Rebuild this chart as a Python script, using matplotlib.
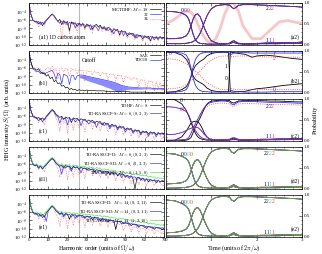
import numpy as np
import matplotlib
matplotlib.use('Agg')
import matplotlib.pyplot as plt
from matplotlib.ticker import MultipleLocator

plt.rcParams['font.family'] = ['Liberation Serif', 'DejaVu Serif']
plt.rcParams['mathtext.fontset'] = 'cm'

BLUE = '#2a2aff'
RED = '#ff3030'
GREEN = '#40e040'
PINK = '#f8c6c6'

# ---- HHG spectra, log10 S(Omega) at harmonic orders 0..70 ----
a1_m18 = [-2.3, -4.6, -6.0, -6.5, -6.3, -7.0, -6.5, -7.4, -6.6, -6.1,
          -5.6, -5.1, -4.6, -5.0, -5.7, -6.4, -5.9, -7.2, -6.2, -6.8,
          -6.4, -8.6, -6.5, -7.0, -6.7, -7.6, -6.8, -7.2, -6.9, -8.0,
          -7.0, -7.5, -7.2, -8.3, -7.4, -7.1, -7.7, -7.3, -8.2, -7.6,
          -8.5, -7.8, -8.0, -9.0, -8.1, -8.5, -8.3, -9.6, -8.6, -8.9,
          -8.8, -9.9, -9.1, -9.4, -9.2, -10.3, -9.5, -9.9, -9.7, -10.6,
          -9.8, -10.2, -9.9, -11.0, -10.0, -10.3, -10.1, -10.7, -10.0, -10.4,
          -10.2]
a1_m32 = [-2.4, -4.8, -6.2, -6.3, -6.8, -6.4, -7.1, -6.6, -7.0, -6.2,
          -5.7, -5.0, -4.7, -5.2, -5.9, -6.2, -6.8, -6.3, -6.9, -6.5,
          -7.3, -6.6, -6.9, -6.6, -8.0, -6.9, -7.1, -7.6, -7.0, -7.3,
          -7.6, -7.2, -8.4, -7.5, -7.4, -7.8, -8.6, -7.6, -7.9, -8.2,
          -7.9, -8.6, -8.2, -8.4, -9.4, -8.4, -8.7, -8.9, -8.6, -9.8,
          -9.0, -9.3, -9.6, -9.2, -9.9, -9.5, -10.4, -9.6, -10.0, -9.8,
          -10.2, -10.0, -10.6, -9.9, -10.2, -10.8, -10.0, -10.3, -10.1, -10.6,
          -10.3]
a1_m34 = [-2.3, -4.7, -6.1, -6.6, -6.4, -7.8, -6.6, -6.9, -7.5, -6.0,
          -5.7, -5.2, -4.7, -5.1, -5.8, -6.5, -7.0, -10.5, -6.4, -7.3,
          -6.6, -9.4, -6.7, -7.3, -6.8, -9.0, -7.0, -7.4, -7.0, -8.4,
          -7.2, -7.7, -7.3, -9.0, -7.5, -7.4, -7.9, -7.5, -8.8, -7.8,
          -8.7, -8.0, -8.2, -9.6, -8.3, -8.7, -8.5, -10.0, -8.8, -9.1,
          -9.0, -10.5, -9.3, -9.6, -9.4, -10.8, -9.7, -10.1, -9.9, -11.2,
          -10.0, -10.4, -10.1, -11.5, -10.2, -10.5, -10.3, -11.0, -10.2, -10.6,
          -10.4]

b1_sae = [-2.3, -4.6, -6.0, -6.3, -6.6, -6.2, -7.0, -7.4, -7.2, -8.0,
          -7.6, -8.6, -8.2, -9.3, -9.0, -9.8, -9.6, -10.4, -10.2, -10.8,
          -10.6, -11.2, -10.9, -11.3, -11.1, -11.5, -11.2, -11.4, -11.3, -11.5,
          -11.3, -11.4, -11.4, -11.4, -11.4, -11.5, -11.5, -11.5, -11.5, -11.5,
          -11.6, -11.6, -11.6, -11.6, -11.6, -11.6, -11.7, -11.7, -11.7, -11.7,
          -11.7, -11.7, -11.7, -11.8, -11.8, -11.8, -11.8, -11.8, -11.8, -11.8,
          -11.8, -11.9, -11.9, -11.9, -11.9, -11.9, -11.9, -11.9, -11.9, -11.9,
          -11.9]
b1_tdcis = [-2.4, -4.8, -6.3, -6.6, -7.0, -6.8, -7.4, -7.0, -7.6, -7.2,
            -7.0, -6.8, -6.6, -7.4, -8.8, -7.3, -7.6, -9.8, -7.5, -7.8,
            -8.0, -10.0, -7.9, -7.8, -8.9, -7.9, -7.8, -7.7, -7.8, -7.9,
            -8.0, -8.1, -8.2, -8.3, -8.4, -8.5, -8.6, -8.7, -8.8, -8.9,
            -9.0, -9.1, -9.2, -9.3, -9.5, -9.6, -9.8, -10.0, -10.2, -10.3,
            -10.4, -10.5, -10.6, -10.6, -10.7, -10.7, -10.7, -10.8, -10.8, -10.8,
            -10.8, -10.8, -10.8, -10.8, -10.9, -10.9, -10.9, -10.9, -10.9, -10.9,
            -10.9]
# lower edge of the fast-oscillating TDCIS band, orders 26, 28, ..., 70
b1_band_orders = list(range(26, 71, 2))
b1_tdcis_low = [-8.3, -8.6, -9.0, -9.3, -9.6, -9.9, -10.2, -10.6, -10.9, -11.3,
                -11.8, -11.5, -11.2, -11.1, -11.1, -11.1, -11.1, -11.0, -11.0, -11.1,
                -11.1, -11.1, -11.1]
b1_ref = [-2.3, -4.5, -5.8, -6.2, -6.0, -6.8, -6.3, -7.4, -6.6, -6.2,
          -5.9, -6.5, -5.6, -6.8, -6.2, -8.6, -6.3, -6.0, -7.0, -6.1,
          -6.4, -8.0, -6.2, -6.6, -6.3, -7.4, -6.4, -6.7, -6.5, -9.2,
          -6.7, -7.0, -6.8, -7.6, -6.9, -7.2, -7.0, -8.0, -7.1, -7.4,
          -7.2, -8.8, -7.4, -7.6, -7.5, -9.0, -7.7, -7.9, -7.8, -9.5,
          -8.0, -8.3, -8.2, -8.9, -8.4, -8.6, -8.5, -10.6, -8.7, -9.0,
          -8.9, -11.2, -9.1, -9.3, -9.2, -11.6, -9.4, -10.8, -9.5, -11.5,
          -9.7]

c1_tdhf = [-2.3, -4.7, -6.0, -6.2, -6.7, -6.4, -6.9, -6.5, -7.0, -6.1,
           -5.6, -5.0, -4.5, -4.9, -5.6, -6.0, -6.4, -6.1, -6.9, -6.3,
           -6.6, -6.4, -7.6, -6.5, -6.8, -6.6, -7.2, -6.7, -7.0, -6.8,
           -7.4, -7.0, -7.3, -7.1, -7.8, -7.3, -7.5, -7.4, -8.2, -7.6,
           -7.9, -7.8, -8.6, -8.0, -8.3, -8.2, -9.0, -8.4, -8.7, -8.6,
           -9.3, -8.9, -9.2, -9.0, -9.8, -9.3, -9.6, -9.4, -10.2, -9.6,
           -9.9, -9.7, -10.4, -9.8, -10.1, -9.9, -10.5, -10.0, -10.3, -10.1,
           -10.3]
c1_ras_s = [-2.4, -4.8, -6.2, -6.5, -6.4, -7.2, -6.6, -7.5, -6.8, -6.3,
            -5.8, -5.2, -4.7, -5.1, -5.9, -6.3, -7.8, -6.4, -6.7, -6.5,
            -8.2, -6.6, -6.9, -6.7, -7.5, -6.9, -7.0, -8.4, -7.1, -7.2,
            -7.3, -8.0, -7.3, -7.6, -7.4, -8.8, -7.6, -7.8, -7.7, -8.3,
            -8.0, -8.2, -9.1, -8.3, -8.5, -8.4, -9.4, -8.7, -8.9, -8.8,
            -9.9, -9.1, -9.3, -9.2, -10.2, -9.5, -9.7, -9.6, -10.6, -9.8,
            -10.0, -9.9, -10.9, -10.0, -10.2, -10.1, -11.0, -10.2, -10.4, -10.3,
            -10.5]
c1_ref = [-2.3, -4.6, -6.1, -6.7, -6.5, -7.6, -6.8, -7.0, -8.2, -6.4,
          -5.9, -5.3, -4.8, -5.2, -6.6, -7.4, -9.8, -6.6, -7.8, -6.8,
          -10.2, -7.0, -7.4, -9.4, -7.2, -7.6, -8.8, -7.3, -7.6, -9.9,
          -7.5, -7.8, -7.6, -9.2, -7.8, -8.0, -7.9, -9.6, -8.1, -8.3,
          -8.2, -9.8, -8.4, -8.6, -8.5, -10.4, -8.8, -9.0, -8.9, -10.6,
          -9.2, -9.4, -9.3, -10.9, -9.6, -9.8, -9.7, -11.3, -9.9, -10.1,
          -10.0, -11.4, -10.2, -10.4, -10.3, -11.6, -10.4, -10.6, -10.5, -11.5,
          -10.6]

d1_ras_d = [-2.3, -4.6, -6.0, -6.4, -6.2, -6.9, -6.5, -7.2, -6.6, -6.1,
            -5.6, -5.1, -4.7, -5.1, -5.8, -6.2, -6.6, -6.3, -7.0, -6.4,
            -6.7, -6.5, -7.3, -6.6, -6.9, -6.7, -7.4, -6.8, -7.1, -7.0,
            -7.5, -7.1, -7.4, -7.2, -8.0, -7.4, -7.6, -7.5, -8.3, -7.7,
            -7.9, -7.8, -8.7, -8.0, -8.3, -8.1, -8.9, -8.3, -8.6, -8.5,
            -9.2, -8.8, -9.0, -8.9, -9.6, -12.0, -9.3, -9.2, -9.9, -9.5,
            -9.7, -9.6, -10.3, -9.8, -10.0, -9.9, -10.5, -10.0, -10.2, -10.1,
            -10.2]
d1_ras_sd = [-2.4, -4.8, -6.2, -6.5, -6.3, -7.1, -6.6, -7.3, -6.7, -6.2,
             -5.7, -5.2, -4.8, -5.2, -5.9, -6.3, -6.8, -8.5, -6.5, -7.0,
             -6.6, -6.8, -7.8, -6.7, -7.0, -6.8, -7.2, -8.2, -7.0, -7.2,
             -7.1, -7.6, -7.3, -7.5, -7.4, -8.4, -7.6, -7.8, -7.7, -8.0,
             -8.8, -8.0, -8.2, -8.1, -8.7, -8.3, -8.5, -8.4, -9.3, -8.6,
             -8.9, -8.8, -9.5, -9.0, -9.2, -9.1, -9.8, -9.3, -9.5, -9.4,
             -10.2, -9.6, -9.8, -9.7, -10.1, -9.8, -10.0, -9.9, -10.4, -10.0,
             -10.1]
d1_cas = [-2.2, -4.5, -5.9, -6.2, -6.0, -6.6, -6.3, -6.8, -6.4, -5.9,
          -5.4, -4.9, -4.5, -4.8, -5.5, -5.9, -6.2, -6.0, -6.5, -6.1,
          -6.4, -6.2, -6.8, -6.3, -6.5, -6.4, -6.9, -6.5, -6.7, -6.6,
          -7.0, -6.7, -6.9, -6.8, -7.3, -6.9, -7.1, -7.0, -7.5, -7.2,
          -7.4, -7.3, -7.8, -7.5, -7.7, -7.6, -8.1, -7.8, -8.0, -7.9,
          -8.3, -8.1, -8.3, -8.2, -8.6, -8.4, -8.6, -8.5, -8.9, -8.7,
          -8.9, -8.8, -9.2, -9.0, -9.2, -9.1, -9.5, -9.3, -9.5, -9.4,
          -9.5]
d1_ref = [-2.3, -4.6, -6.1, -6.6, -6.4, -7.5, -6.7, -7.1, -7.9, -6.3,
          -5.8, -5.3, -4.9, -5.3, -6.4, -7.2, -9.2, -6.6, -7.6, -6.8,
          -9.8, -7.0, -7.3, -9.0, -7.1, -7.5, -8.6, -7.2, -7.5, -9.5,
          -7.4, -7.7, -7.5, -8.9, -7.7, -7.9, -7.8, -9.3, -8.0, -8.2,
          -8.1, -9.6, -8.3, -8.5, -8.4, -10.1, -8.7, -8.9, -8.8, -10.4,
          -9.1, -9.3, -9.2, -10.7, -9.5, -9.7, -9.6, -11.0, -9.8, -10.0,
          -9.9, -11.2, -10.1, -10.3, -10.2, -11.3, -10.3, -10.5, -10.4, -11.2,
          -10.5]

e1_ras_d = [-2.3, -4.7, -6.1, -6.3, -6.6, -6.4, -7.0, -6.6, -7.3, -6.2,
            -5.7, -5.1, -4.6, -5.0, -5.7, -6.1, -6.5, -6.2, -6.9, -6.4,
            -6.6, -7.8, -6.6, -6.8, -6.7, -7.3, -6.8, -7.0, -6.9, -7.6,
            -7.0, -7.3, -7.1, -7.9, -7.3, -7.5, -7.4, -8.2, -7.6, -7.8,
            -7.7, -8.5, -7.9, -8.1, -8.0, -10.2, -8.2, -8.4, -8.3, -8.9,
            -8.6, -8.8, -8.7, -9.3, -8.9, -9.1, -9.0, -9.7, -9.2, -9.4,
            -9.3, -10.0, -9.5, -9.7, -9.6, -10.2, -9.7, -9.9, -9.8, -10.3,
            -9.9]
e1_ras_sd = [-2.4, -4.8, -6.2, -6.6, -6.4, -7.1, -6.7, -7.4, -6.9, -8.3,
             -5.8, -5.2, -4.7, -5.1, -5.8, -6.2, -6.7, -6.3, -7.2, -6.5,
             -6.8, -6.6, -7.2, -6.7, -7.6, -6.8, -7.0, -6.9, -7.4, -7.0,
             -7.2, -7.1, -7.7, -7.3, -7.5, -7.4, -8.0, -7.6, -7.8, -7.7,
             -8.3, -7.9, -8.1, -8.0, -8.6, -8.2, -8.4, -8.3, -8.9, -8.5,
             -8.7, -8.6, -9.2, -8.8, -9.0, -8.9, -9.5, -9.1, -9.3, -9.2,
             -9.8, -9.4, -9.6, -9.5, -10.0, -9.6, -9.8, -9.7, -10.1, -9.8,
             -9.9]
e1_cas = [-2.2, -4.5, -5.9, -6.2, -6.0, -6.6, -6.2, -6.9, -6.4, -5.9,
          -5.4, -4.9, -4.4, -4.8, -5.4, -5.8, -6.1, -5.9, -6.4, -6.0,
          -6.3, -6.1, -6.6, -6.2, -6.4, -6.3, -6.8, -6.4, -6.6, -6.5,
          -6.8, -6.6, -6.8, -6.7, -7.1, -6.8, -7.0, -6.9, -7.3, -7.0,
          -7.2, -7.1, -7.5, -7.3, -7.5, -7.4, -7.8, -7.5, -7.7, -7.6,
          -8.0, -7.8, -8.0, -7.9, -8.3, -8.1, -8.3, -8.2, -8.6, -8.4,
          -8.6, -8.5, -8.9, -8.7, -8.9, -8.8, -9.2, -9.0, -9.2, -9.1,
          -9.3]
e1_ref = [-2.3, -4.6, -6.1, -6.7, -6.5, -7.7, -6.8, -7.2, -8.4, -6.4,
          -5.9, -5.3, -4.9, -5.3, -6.5, -7.3, -9.5, -6.7, -7.7, -6.9,
          -10.0, -7.1, -7.4, -9.2, -7.2, -7.6, -8.7, -7.3, -7.6, -9.7,
          -7.5, -7.8, -7.6, -9.0, -7.8, -8.0, -7.9, -9.4, -8.1, -8.3,
          -8.2, -9.7, -8.4, -8.6, -8.5, -10.2, -8.8, -9.0, -8.9, -10.5,
          -9.2, -9.4, -9.3, -10.8, -9.6, -9.8, -9.7, -11.1, -9.9, -10.1,
          -10.0, -11.3, -10.2, -10.4, -10.3, -11.4, -10.4, -10.6, -10.5, -11.3,
          -10.6]

cutoff_order = 26

# ---- populations vs time ----
t_a = [0, 0.2, 0.35, 0.45, 0.5, 0.55, 0.6, 0.65, 0.7, 0.75, 0.8, 0.85, 0.9, 0.95, 1.0,
       1.1, 1.2, 1.3, 1.4, 1.45, 1.5, 1.55, 1.6, 1.7, 1.9, 2.1, 2.3, 2.5, 2.7, 2.9, 3.0]

a2_p000 = [0.80, 0.79, 0.76, 0.70, 0.62, 0.45, 0.25, 0.12, 0.06, 0.04,
           0.03, 0.03, 0.02, 0.02, 0.02, 0.02, 0.02, 0.02, 0.03, 0.05,
           0.06, 0.04, 0.03, 0.02, 0.02, 0.03, 0.03, 0.03, 0.04, 0.04, 0.04]
a2_p111 = [0.15, 0.15, 0.17, 0.22, 0.30, 0.45, 0.62, 0.72, 0.74, 0.68,
           0.55, 0.40, 0.28, 0.18, 0.10, 0.05, 0.03, 0.03, 0.04, 0.08,
           0.10, 0.07, 0.04, 0.03, 0.03, 0.04, 0.05, 0.05, 0.06, 0.06, 0.07]
a2_p222 = [0.03, 0.03, 0.03, 0.04, 0.05, 0.06, 0.08, 0.12, 0.18, 0.27,
           0.40, 0.55, 0.68, 0.78, 0.86, 0.93, 0.95, 0.96, 0.95, 0.90,
           0.86, 0.90, 0.94, 0.96, 0.96, 0.95, 0.94, 0.93, 0.92, 0.91, 0.90]
a2_exact = [0.50, 0.62, 0.75, 0.80, 0.80, 0.78, 0.72, 0.62, 0.50, 0.38,
            0.27, 0.18, 0.11, 0.07, 0.06, 0.15, 0.40, 0.75, 0.97, 1.00,
            0.97, 0.90, 0.80, 0.45, 0.15, 0.15, 0.35, 0.55, 0.58, 0.53, 0.52]

t_b = [0, 0.2, 0.35, 0.45, 0.5, 0.55, 0.6, 0.65, 0.7, 0.75, 0.8, 0.85, 0.9, 1.0, 1.1,
       1.2, 1.3, 1.38, 1.40, 1.42, 1.44, 1.5, 1.6, 1.75, 1.9, 2.0, 2.2, 2.4, 2.6, 2.8, 3.0]
b2_sae_0 = [0.97, 0.96, 0.90, 0.80, 0.70, 0.55, 0.40, 0.32, 0.28, 0.25,
            0.22, 0.18, 0.12, 0.06, 0.04, 0.03, 0.03, 0.03, 0.50, 0.96,
            0.97, 0.96, 0.94, 0.92, 0.85, 0.88, 0.90, 0.88, 0.85, 0.82, 0.80]
b2_sae_1 = [0.02, 0.03, 0.08, 0.15, 0.25, 0.38, 0.55, 0.65, 0.70, 0.75,
            0.78, 0.82, 0.88, 0.94, 0.96, 0.97, 0.97, 0.97, 0.50, 0.03,
            0.02, 0.02, 0.03, 0.04, 0.08, 0.10, 0.12, 0.15, 0.18, 0.20, 0.22]
b2_cis_0 = [0.98, 0.97, 0.95, 0.90, 0.80, 0.60, 0.35, 0.18, 0.10, 0.06,
            0.04, 0.03, 0.03, 0.02, 0.02, 0.02, 0.02, 0.02, 0.03, 0.05,
            0.06, 0.04, 0.03, 0.02, 0.02, 0.02, 0.02, 0.03, 0.03, 0.03, 0.03]
b2_cis_1 = [0.01, 0.02, 0.04, 0.08, 0.18, 0.38, 0.62, 0.80, 0.88, 0.93,
            0.95, 0.96, 0.97, 0.97, 0.97, 0.97, 0.97, 0.96, 0.93, 0.90,
            0.92, 0.95, 0.96, 0.96, 0.95, 0.95, 0.95, 0.95, 0.95, 0.95, 0.95]
b2_ref_0 = [0.82, 0.80, 0.75, 0.70, 0.66, 0.62, 0.57, 0.52, 0.47, 0.42,
            0.36, 0.30, 0.25, 0.18, 0.12, 0.09, 0.08, 0.08, 0.09, 0.10,
            0.10, 0.09, 0.08, 0.08, 0.08, 0.08, 0.08, 0.08, 0.08, 0.08, 0.08]
b2_ref_2 = [0.10, 0.11, 0.14, 0.20, 0.24, 0.29, 0.34, 0.40, 0.46, 0.52,
            0.58, 0.64, 0.70, 0.78, 0.84, 0.87, 0.88, 0.88, 0.86, 0.85,
            0.86, 0.87, 0.88, 0.88, 0.87, 0.87, 0.86, 0.85, 0.85, 0.85, 0.85]

c2_tdhf_0 = [1.00, 0.98, 0.88, 0.72, 0.60, 0.45, 0.30, 0.18, 0.10, 0.06,
             0.04, 0.03, 0.02, 0.02, 0.02, 0.02, 0.02, 0.02, 0.03, 0.05,
             0.06, 0.04, 0.03, 0.02, 0.03, 0.04, 0.04, 0.05, 0.05, 0.06, 0.06]
c2_tdhf_1 = [0.00, 0.02, 0.10, 0.24, 0.33, 0.42, 0.46, 0.47, 0.46, 0.40,
             0.30, 0.18, 0.10, 0.05, 0.03, 0.02, 0.02, 0.02, 0.02, 0.03,
             0.03, 0.03, 0.02, 0.02, 0.02, 0.02, 0.03, 0.03, 0.03, 0.04, 0.04]
c2_tdhf_2 = [0.00, 0.00, 0.01, 0.02, 0.04, 0.08, 0.20, 0.33, 0.44, 0.54,
             0.66, 0.78, 0.87, 0.92, 0.95, 0.96, 0.97, 0.97, 0.96, 0.92,
             0.90, 0.93, 0.95, 0.96, 0.96, 0.96, 0.95, 0.95, 0.94, 0.93, 0.93]
c2_ras_0 = [0.82, 0.80, 0.76, 0.70, 0.62, 0.48, 0.35, 0.25, 0.17, 0.11,
            0.07, 0.05, 0.04, 0.03, 0.03, 0.02, 0.02, 0.02, 0.03, 0.05,
            0.06, 0.04, 0.03, 0.02, 0.02, 0.03, 0.03, 0.03, 0.04, 0.04, 0.04]
c2_ras_1 = [0.15, 0.16, 0.20, 0.25, 0.28, 0.30, 0.32, 0.33, 0.32, 0.28,
            0.22, 0.15, 0.10, 0.06, 0.04, 0.03, 0.03, 0.03, 0.04, 0.07,
            0.08, 0.06, 0.04, 0.03, 0.03, 0.04, 0.04, 0.05, 0.05, 0.06, 0.06]
c2_ras_2 = [0.02, 0.02, 0.03, 0.04, 0.08, 0.18, 0.30, 0.42, 0.52, 0.62,
            0.72, 0.80, 0.86, 0.90, 0.92, 0.94, 0.95, 0.95, 0.93, 0.88,
            0.86, 0.90, 0.93, 0.94, 0.94, 0.93, 0.92, 0.92, 0.91, 0.90, 0.90]
c2_ref_2 = [0.02, 0.02, 0.03, 0.04, 0.07, 0.15, 0.26, 0.38, 0.48, 0.58,
            0.67, 0.75, 0.81, 0.85, 0.87, 0.89, 0.90, 0.90, 0.88, 0.84,
            0.82, 0.85, 0.88, 0.89, 0.89, 0.88, 0.87, 0.87, 0.86, 0.86, 0.85]

d2_p0 = [0.85, 0.83, 0.78, 0.72, 0.65, 0.50, 0.30, 0.15, 0.08, 0.05,
         0.04, 0.03, 0.03, 0.02, 0.02, 0.02, 0.02, 0.02, 0.03, 0.05,
         0.06, 0.04, 0.03, 0.02, 0.02, 0.03, 0.03, 0.03, 0.04, 0.04, 0.04]
d2_p1 = [0.12, 0.13, 0.15, 0.20, 0.28, 0.42, 0.58, 0.68, 0.70, 0.64,
         0.52, 0.38, 0.26, 0.16, 0.09, 0.04, 0.03, 0.03, 0.04, 0.08,
         0.10, 0.07, 0.04, 0.03, 0.03, 0.04, 0.04, 0.05, 0.05, 0.06, 0.06]
d2_p2 = [0.02, 0.02, 0.03, 0.04, 0.05, 0.06, 0.09, 0.14, 0.20, 0.30,
         0.43, 0.58, 0.71, 0.81, 0.88, 0.94, 0.96, 0.97, 0.95, 0.88,
         0.85, 0.90, 0.94, 0.96, 0.96, 0.95, 0.94, 0.93, 0.92, 0.91, 0.90]

e2_p0 = [0.88, 0.86, 0.80, 0.73, 0.66, 0.50, 0.30, 0.15, 0.08, 0.05,
         0.04, 0.03, 0.03, 0.02, 0.02, 0.02, 0.02, 0.02, 0.03, 0.05,
         0.06, 0.04, 0.03, 0.02, 0.02, 0.03, 0.03, 0.03, 0.04, 0.04, 0.04]
e2_p1 = [0.10, 0.11, 0.14, 0.19, 0.27, 0.42, 0.58, 0.68, 0.70, 0.64,
         0.52, 0.38, 0.26, 0.16, 0.09, 0.04, 0.03, 0.03, 0.04, 0.08,
         0.10, 0.07, 0.04, 0.03, 0.03, 0.04, 0.04, 0.05, 0.05, 0.06, 0.06]
e2_p2 = [0.02, 0.02, 0.03, 0.04, 0.05, 0.06, 0.09, 0.14, 0.20, 0.30,
         0.43, 0.58, 0.71, 0.81, 0.88, 0.94, 0.96, 0.97, 0.95, 0.88,
         0.85, 0.90, 0.94, 0.96, 0.96, 0.95, 0.94, 0.93, 0.92, 0.91, 0.90]

LEG = dict(loc='upper right', fontsize=3.3, frameon=False, markerfirst=False,
           handlelength=2.4, labelspacing=0.0, borderaxespad=0.2, handletextpad=0.4)


def spec(ax, vals, **kw):
    vals = np.array(vals)
    ax.plot(np.arange(len(vals)), 10.0 ** vals, **kw)


def style_left(ax, last, legend=True):
    ax.set_yscale('log')
    ax.set_xlim(0, 70)
    ax.set_ylim(1e-12, 1e-2)
    ax.axvline(cutoff_order, color='#bbbbbb', lw=0.8, zorder=0)
    ax.set_yticks([1e-4, 1e-6, 1e-8, 1e-10, 1e-12])
    ax.set_yticklabels([r'$10^{-4}$', r'$10^{-6}$', r'$10^{-8}$', r'$10^{-10}$', r'$10^{-12}$'])
    ax.set_yticks([10.0 ** k for k in range(-12, -1)], minor=True)
    ax.yaxis.set_minor_formatter(plt.NullFormatter())
    ax.xaxis.set_major_locator(MultipleLocator(10))
    ax.xaxis.set_minor_locator(MultipleLocator(2))
    ax.tick_params(which='both', direction='in', top=True, right=True, labelsize=3.6, pad=1.0, width=0.4)
    ax.tick_params(which='major', length=2.0)
    ax.tick_params(which='minor', length=1.0)
    if not last:
        ax.set_xticklabels([])
    for s in ax.spines.values():
        s.set_linewidth(0.5)
    if legend:
        ax.legend(**LEG)


def style_right(ax, last):
    ax.set_xlim(0, 3)
    ax.set_ylim(0, 1)
    ax.xaxis.set_major_locator(MultipleLocator(1))
    ax.xaxis.set_minor_locator(MultipleLocator(0.2))
    ax.yaxis.set_major_locator(MultipleLocator(0.5))
    ax.yaxis.set_minor_locator(MultipleLocator(0.1))
    ax.yaxis.tick_right()
    ax.tick_params(which='both', direction='in', top=True, left=True, right=True,
                   labelsize=3.6, pad=1.0, width=0.4)
    ax.tick_params(which='major', length=2.0)
    ax.tick_params(which='minor', length=1.0)
    ax.yaxis.set_major_formatter(plt.FuncFormatter(lambda v, p: f'{v:.1f}'))
    if not last:
        ax.set_xticklabels([])
    for s in ax.spines.values():
        s.set_linewidth(0.5)


def digits(ax, x, y, text, colors):
    for i, (ch, c) in enumerate(zip(text, colors)):
        ax.annotate(ch, (x, y), xytext=(i * 2.0, 0), textcoords='offset points',
                    color=c, fontsize=4, va='center')


fig = plt.figure(figsize=(3.22, 2.54), dpi=100)
bottoms = [0.823, 0.634, 0.445, 0.256, 0.067]
hgt = 0.1654
axl = [fig.add_axes([0.090, b, 0.419, hgt]) for b in bottoms]
axr = [fig.add_axes([0.5155, b, 0.422, hgt]) for b in bottoms]

lw = 0.45
# (a1)
ax = axl[0]
spec(ax, a1_m18, color='k', lw=lw, label=r'MCTDHF: $M=18$')
spec(ax, a1_m32, color=BLUE, lw=lw, label='32')
spec(ax, a1_m34, color=RED, lw=lw, ls=':', label='34')
ax.text(5, 3e-11, '(a1) 1D carbon atom', fontsize=4)
style_left(ax, False)

# (b1)
ax = axl[1]
spec(ax, b1_ref, color=RED, lw=lw, ls=':')
ax.fill_between(b1_band_orders, 10.0 ** np.array(b1_tdcis_low),
                10.0 ** np.array(b1_tdcis)[b1_band_orders], color=BLUE, lw=0, alpha=0.55)
spec(ax, b1_tdcis, color=BLUE, lw=lw, label='TDCIS')
spec(ax, b1_sae, color='k', lw=lw, label='SAE')
h, l = ax.get_legend_handles_labels()
ax.text(27.5, 3e-5, 'Cutoff', fontsize=4)
ax.text(5, 1e-10, '(b1)', fontsize=4)
style_left(ax, False, legend=False)
ax.legend([h[1], h[0]], [l[1], l[0]], **LEG)

# (c1)
ax = axl[2]
spec(ax, c1_ref, color=RED, lw=lw, ls=':')
spec(ax, c1_tdhf, color='k', lw=lw, label=r'TDHF: $M=8$')
spec(ax, c1_ras_s, color=BLUE, lw=lw, label=r'TD-RASSCF-S: $M=6$, $(0,3,3)$')
ax.text(5, 1e-10, '(c1)', fontsize=4)
style_left(ax, False)

# (d1)
ax = axl[3]
spec(ax, d1_ref, color=RED, lw=lw, ls=':')
spec(ax, d1_ras_d, color='k', lw=lw, label=r'TD-RASSCF-D:  $M=6$, $(0,3,3)$')
spec(ax, d1_ras_sd, color=BLUE, lw=lw, label=r'TD-RASSCF-SD: $M=6$, $(0,3,3)$')
spec(ax, d1_cas, color=GREEN, lw=lw, label=r'TD-CASSCF:  $M=6$, $(1,5,0)$')
ax.text(5, 1e-10, '(d1)', fontsize=4)
style_left(ax, False)

# (e1)
ax = axl[4]
spec(ax, e1_ref, color=RED, lw=lw, ls=':')
spec(ax, e1_ras_d, color='k', lw=lw, label=r'TD-RASSCF-D:  $M=14$, $(0,3,11)$')
spec(ax, e1_ras_sd, color=BLUE, lw=lw, label=r'TD-RASSCF-SD: $M=14$, $(0,3,11)$')
spec(ax, e1_cas, color=GREEN, lw=lw, label=r'TD-CASSCF:  $M=14$, $(1,3,10)$')
ax.text(5, 1e-10, '(e1)', fontsize=4)
style_left(ax, True)
ax.set_xlabel(r'Harmonic order (units of $\Omega/\omega$)', fontsize=4.4, labelpad=0.3)
ax.get_xticklabels()[-1].set_horizontalalignment('right')

rl = 0.6
# (a2)
ax = axr[0]
ax.plot(t_a, a2_exact, color=PINK, lw=2.0, solid_capstyle='round')
for p in (a2_p000, a2_p111, a2_p222):
    ax.plot(t_a, p, color='k', lw=rl)
    ax.plot(t_a, p, color=BLUE, lw=rl)
    ax.plot(t_a, p, color=RED, lw=rl, ls=':')
digits(ax, 0.33, 0.83, '000', ['k', BLUE, RED])
digits(ax, 2.2, 0.86, '222', ['k', BLUE, RED])
digits(ax, 2.2, 0.10, '111', ['k', BLUE, RED])
ax.text(2.75, 0.15, '(a2)', fontsize=4)
style_right(ax, False)

# (b2)
ax = axr[1]
ax.plot(t_b, b2_sae_0, color='k', lw=rl)
ax.plot(t_b, b2_sae_1, color='k', lw=rl)
ax.plot(t_b, b2_cis_0, color=BLUE, lw=rl)
ax.plot(t_b, b2_cis_1, color=BLUE, lw=rl)
ax.plot(t_b, b2_ref_0, color=RED, lw=rl, ls=':')
ax.plot(t_b, b2_ref_2, color=RED, lw=rl, ls=':')
ax.text(0.05, 0.9, '0', fontsize=4, color=BLUE)
ax.text(0.45, 0.74, '0', fontsize=4, color=RED)
ax.text(1.3, 0.6, '1', fontsize=4, color='k')
ax.text(1.3, 0.3, '0', fontsize=4, color='k')
ax.text(2.35, 0.9, '1', fontsize=4, color=BLUE)
ax.text(2.35, 0.78, '2', fontsize=4, color=RED)
ax.text(2.35, 0.05, '0', fontsize=4, color=BLUE)
ax.text(2.75, 0.25, '(b2)', fontsize=4)
style_right(ax, False)

# (c2)
ax = axr[2]
for p in (c2_tdhf_0, c2_tdhf_1, c2_tdhf_2):
    ax.plot(t_a, p, color='k', lw=rl)
for p in (c2_ras_0, c2_ras_1, c2_ras_2):
    ax.plot(t_a, p, color=BLUE, lw=rl)
for p in (c2_ras_0, c2_ras_1, c2_ref_2):
    ax.plot(t_a, p, color=RED, lw=rl, ls=':')
ax.text(0.3, 0.92, '0', fontsize=4, color='k')
digits(ax, 0.3, 0.75, '00', [BLUE, RED])
digits(ax, 2.2, 0.82, '222', ['k', BLUE, RED])
digits(ax, 2.2, 0.10, '111', ['k', BLUE, RED])
ax.text(2.75, 0.08, '(c2)', fontsize=4)
ax.set_ylabel('Probability', fontsize=4.6, labelpad=2)
ax.yaxis.set_label_position('right')
style_right(ax, False)

# (d2), (e2)
for ax, ps, tag in ((axr[3], (d2_p0, d2_p1, d2_p2), '(d2)'),
                    (axr[4], (e2_p0, e2_p1, e2_p2), '(e2)')):
    for p in ps:
        ax.plot(t_a, p, color='k', lw=rl)
        ax.plot(t_a, p, color=BLUE, lw=rl)
        ax.plot(t_a, p, color=GREEN, lw=rl)
        ax.plot(t_a, p, color=RED, lw=rl, ls=':')
    digits(ax, 0.33, 0.82, '0000', ['k', BLUE, GREEN, RED])
    digits(ax, 2.15, 0.84, '2222', ['k', BLUE, GREEN, RED])
    digits(ax, 2.15, 0.10, '1111', ['k', BLUE, GREEN, RED])
    ax.text(2.75, 0.15, tag, fontsize=4)
    style_right(ax, ax is axr[4])
axr[4].set_xlabel(r'Time (units of $2\pi/\omega$)', fontsize=4.4, labelpad=0.3)
fig.canvas.draw()
axl[4].get_xticklabels()[-1].set_horizontalalignment('right')
axr[4].get_xticklabels()[0].set_horizontalalignment('left')

fig.text(0.022, 0.53, r'HHG intensity $S(\Omega)$ (arb. units)', rotation=90,
         fontsize=4.6, va='center', ha='center')

fig.savefig('out.png', dpi=100)
